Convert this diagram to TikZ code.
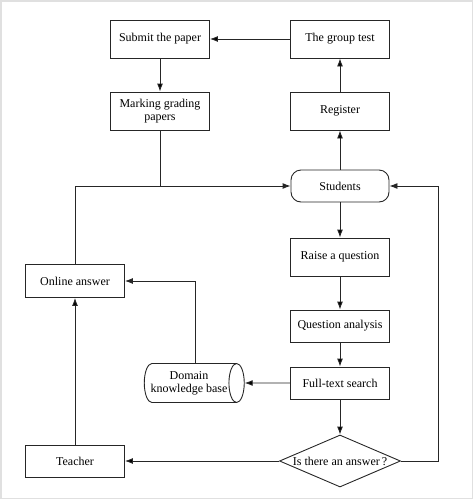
\documentclass[tikz,border=0pt]{standalone}
\usepackage{fontspec}
\setmainfont{Liberation Serif}
\usetikzlibrary{arrows.meta, positioning, shapes.geometric}

\begin{document}
\begin{tikzpicture}[x=1pt,y=-1pt,on grid,
        every node/.style={font=\fontsize{12}{13}\selectfont, text=black},
        box/.style={draw=black!85, line width=0.9pt, minimum width=99pt, minimum height=33pt, align=center, inner sep=2pt},
        tallbox/.style={box, minimum height=38pt},
        flow/.style={draw=black!85, line width=0.9pt, -{Latex[length=8pt,width=6pt]}}]
        \useasboundingbox (0,0) rectangle (474,501);
        \draw[black!12, line width=1.5pt] (0.75,0.75) rectangle (472.5,498.5);

        \node[box, rounded corners=10pt, minimum width=98pt, minimum height=32pt] (students) at (340,186) {Students};
        \node[tallbox]              (register)   [above=75pt of students]  {Register};
        \node[tallbox]              (grouptest)  [above=72pt of register]  {The group test};
        \node[tallbox]              (submit)     [left=180pt of grouptest] {Submit the paper};
        \node[tallbox]              (marking)    [below=72pt of submit]    {Marking grading\\papers};
        \node[tallbox]              (raise)      [below=71pt of students]  {Raise a question};
        \node[box, minimum height=32pt] (analysis) [below=69pt of raise]   {Question analysis};
        \node[box, minimum height=32pt] (search)   [below=57pt of analysis] {Full-text search};
        \node[draw=black!85, line width=0.9pt, diamond, aspect=2.33, inner sep=0pt,
              minimum width=121pt, minimum height=52pt]
                                    (answer)     [below=78pt of search]    {Is there an answer\,?};
        \node[box, minimum height=32pt] (teacher)  [left=265pt of answer]   {Teacher};
        \node[box]                  (online)     [above=180pt of teacher]  {Online answer};
        \node[draw=black!85, line width=0.9pt, cylinder, aspect=0.6, minimum width=39pt,
              minimum height=99pt, align=center, inner sep=1pt]
                                    (domain)     [left=151pt of search]    {Domain\\knowledge base};
        \coordinate[right=49pt of students.east] (back);

        \path[flow] (grouptest) edge (submit)
        (submit) edge (marking)
        (students) edge (register)
        (register) edge (grouptest)
        (students) edge (raise)
        (raise) edge (analysis)
        (analysis) edge (search)
        (search) edge (answer)
        (search) edge (domain)
        (answer) edge (teacher)
        (teacher) edge (online)
        ;
        \draw[flow] (online.north) |- (students.west);
        \draw[draw=black!85, line width=0.9pt] (marking.south) -- (marking.south |- students.west);
        \draw[flow] ([xshift=6pt]domain.north) |- (online.east);
        \draw[flow] (answer.east) -| (back) -- (students.east);
    \end{tikzpicture}
\end{document}
